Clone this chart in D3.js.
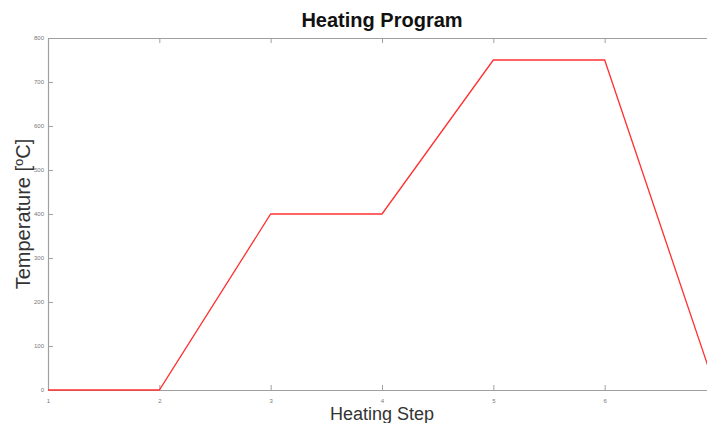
<!DOCTYPE html>
<html>
<head>
<meta charset="utf-8">
<script src="https://cdn.jsdelivr.net/npm/d3@7"></script>
<style>
  body { margin: 0; background: #fff; }
  svg { display: block; }
</style>
</head>
<body>
<div id="wrapper"></div>
<script>
// heating program data
const steps = [1, 2, 3, 4, 5, 6, 7];
const temps = [0, 0, 400, 400, 750, 750, 0];
const xTicks = [1, 2, 3, 4, 5, 6];
const yTicks = [0, 100, 200, 300, 400, 500, 600, 700, 800];

function buildPlot() {
    const dimension = {
        width: 707,
        height: 423,
        margin: { top: 38, left: 48, bottom: 33, right: -9 }
    };
    dimension.boundedWidth = dimension.width - dimension.margin.left - dimension.margin.right;
    dimension.boundedHeight = dimension.height - dimension.margin.top - dimension.margin.bottom;

    const svg = d3.select("#wrapper").append("svg")
        .attr("width", dimension.width)
        .attr("height", dimension.height);

    const bounded = svg.append("g")
        .attr("transform", `translate(${dimension.margin.left},${dimension.margin.top})`);

    const xScaler = d3.scaleLinear()
        .domain([1, 7])
        .range([0, dimension.boundedWidth]);

    const yScaler = d3.scaleLinear()
        .domain([0, 800])
        .range([dimension.boundedHeight, 0]);

    const axisColor = "#a0a0a0";
    const styleAxis = (g) => {
        g.select(".domain").attr("stroke", axisColor).attr("stroke-width", 1.2);
        g.selectAll(".tick line").attr("stroke", axisColor);
        g.selectAll(".tick text")
            .attr("fill", "#777")
            .style("font-family", "Helvetica, Arial, sans-serif")
            .style("font-size", "6px");
    };

    // bottom axis, ticks inside
    const xAxis = d3.axisBottom(xScaler)
        .tickValues(xTicks)
        .tickSizeInner(-5)
        .tickSizeOuter(0)
        .tickPadding(9)
        .tickFormat(d3.format("d"));
    bounded.append("g")
        .attr("transform", `translate(0,${dimension.boundedHeight})`)
        .call(xAxis)
        .call(styleAxis);

    // top border with ticks pointing down
    const xTop = d3.axisTop(xScaler)
        .tickValues(xTicks)
        .tickSizeInner(-5)
        .tickSizeOuter(0)
        .tickFormat("");
    bounded.append("g").call(xTop).call(styleAxis);

    // left axis, ticks inside
    const yAxis = d3.axisLeft(yScaler)
        .tickValues(yTicks)
        .tickSizeInner(-5)
        .tickSizeOuter(0)
        .tickPadding(4);
    bounded.append("g")
        .call(yAxis)
        .call(styleAxis);

    const lineGenerator = d3.line()
        .x((d, i) => xScaler(steps[i]))
        .y(d => yScaler(d));

    bounded.append("path")
        .attr("d", lineGenerator(temps))
        .attr("fill", "none")
        .attr("stroke", "#ff3030")
        .attr("stroke-width", 1.3);

    svg.append("text")
        .attr("x", dimension.margin.left + dimension.boundedWidth / 2)
        .attr("y", 27)
        .attr("text-anchor", "middle")
        .style("font-family", "Liberation Sans, Arial, sans-serif")
        .style("font-weight", "bold")
        .style("font-size", "20px")
        .attr("fill", "#111")
        .text("Heating Program");

    svg.append("text")
        .attr("x", dimension.margin.left + dimension.boundedWidth / 2)
        .attr("y", 420)
        .attr("text-anchor", "middle")
        .style("font-family", "Liberation Sans, Arial, sans-serif")
        .style("font-size", "18px")
        .attr("fill", "#333")
        .text("Heating Step");

    const yLabel = svg.append("text")
        .attr("text-anchor", "middle")
        .attr("transform", `translate(30,${dimension.margin.top + dimension.boundedHeight / 2})rotate(-90)`)
        .style("font-family", "Liberation Sans, Arial, sans-serif")
        .style("font-size", "20px")
        .attr("fill", "#333");
    yLabel.append("tspan").text("Temperature [");
    yLabel.append("tspan").attr("dy", -7).style("font-size", "13px").text("o");
    yLabel.append("tspan").attr("dy", 7).text("C]");
}

buildPlot();
</script>
</body>
</html>
